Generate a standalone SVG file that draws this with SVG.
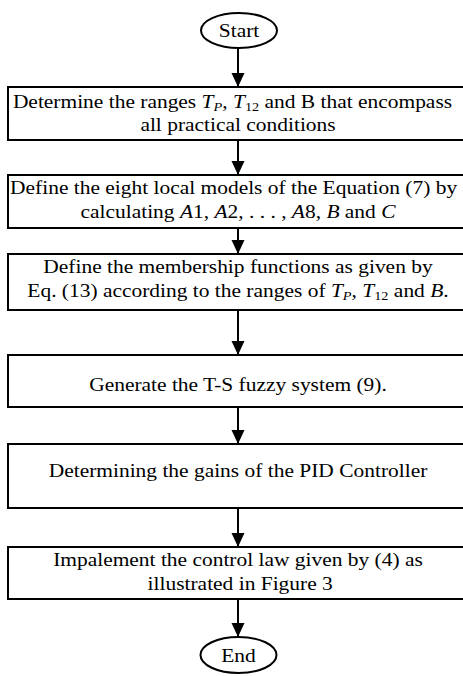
<svg xmlns="http://www.w3.org/2000/svg" width="463" height="676" viewBox="0 0 463 676">
<style>
.box{fill:#fff;stroke:#000;stroke-width:2}
.term{fill:#fff;stroke:#000;stroke-width:2}
text{font-family:'Liberation Serif',serif;font-size:19.5px;fill:#000;text-anchor:middle}
.i{font-style:italic}
.sub{font-size:13px}
.conn line{stroke:#000;stroke-width:2}
</style>
<defs>
<marker id="arr" markerWidth="14" markerHeight="14" refX="14" refY="7" orient="auto" markerUnits="userSpaceOnUse" viewBox="0 0 14 14">
<path d="M0,0.5 L14,7 L0,13.5 Z" fill="#000"/>
</marker>
</defs>
<g class="conn">
<line x1="238" y1="48" x2="238" y2="87" marker-end="url(#arr)"/>
<line x1="238" y1="140" x2="238" y2="175" marker-end="url(#arr)"/>
<line x1="238" y1="228" x2="238" y2="254" marker-end="url(#arr)"/>
<line x1="238" y1="310" x2="238" y2="355" marker-end="url(#arr)"/>
<line x1="238" y1="407" x2="238" y2="444" marker-end="url(#arr)"/>
<line x1="238" y1="508" x2="238" y2="547" marker-end="url(#arr)"/>
<line x1="238" y1="599" x2="238" y2="637" marker-end="url(#arr)"/>
</g>
<g id="start">
<ellipse class="term" cx="239" cy="30.5" rx="38" ry="17.5"/>
<text x="239" y="37" transform="matrix(1.1,0,0,1,-23.8,0)">Start</text>
</g>
<g id="n1">
<rect class="box" x="8" y="87" width="470" height="53"/>
<text x="233" y="108" transform="matrix(1.1,0,0,1,-23.8,0)">Determine the ranges <tspan class="i">T</tspan><tspan class="i sub" dy="3">P</tspan><tspan dy="-3">, </tspan><tspan class="i">T</tspan><tspan class="sub" dy="3">12</tspan><tspan dy="-3"> and B that encompass</tspan></text>
<text x="238" y="131" transform="matrix(1.1,0,0,1,-23.8,0)">all practical conditions</text>
</g>
<g id="n2">
<rect class="box" x="8" y="175" width="470" height="53"/>
<text x="234" y="194" transform="matrix(1.1,0,0,1,-23.8,0)">Define the eight local models of the Equation (7) by</text>
<text x="238" y="218" transform="matrix(1.1,0,0,1,-23.8,0)">calculating <tspan class="i">A</tspan>1, <tspan class="i">A</tspan>2, . . . , <tspan class="i">A</tspan>8, <tspan class="i">B</tspan> and <tspan class="i">C</tspan></text>
</g>
<g id="n3">
<rect class="box" x="8" y="254" width="470" height="56"/>
<text x="238" y="273" transform="matrix(1.1,0,0,1,-23.8,0)">Define the membership functions as given by</text>
<text x="238" y="297" transform="matrix(1.1,0,0,1,-23.8,0)">Eq. (13) according to the ranges of <tspan class="i">T</tspan><tspan class="i sub" dy="3">P</tspan><tspan dy="-3">, </tspan><tspan class="i">T</tspan><tspan class="sub" dy="3">12</tspan><tspan dy="-3"> and </tspan><tspan class="i">B</tspan>.</text>
</g>
<g id="n4">
<rect class="box" x="8" y="355" width="470" height="52"/>
<text x="238" y="391" transform="matrix(1.1,0,0,1,-23.8,0)">Generate the T-S fuzzy system (9).</text>
</g>
<g id="n5">
<rect class="box" x="8" y="444" width="470" height="64"/>
<text x="238" y="477" transform="matrix(1.1,0,0,1,-23.8,0)">Determining the gains of the PID Controller</text>
</g>
<g id="n6">
<rect class="box" x="8" y="547" width="470" height="52"/>
<text x="238" y="566" transform="matrix(1.1,0,0,1,-23.8,0)">Impalement the control law given by (4) as</text>
<text x="240" y="590" transform="matrix(1.1,0,0,1,-23.8,0)">illustrated in Figure 3</text>
</g>
<g id="end">
<ellipse class="term" cx="238.5" cy="655" rx="38" ry="18"/>
<text x="238.5" y="662" transform="matrix(1.1,0,0,1,-23.8,0)">End</text>
</g>
</svg>
